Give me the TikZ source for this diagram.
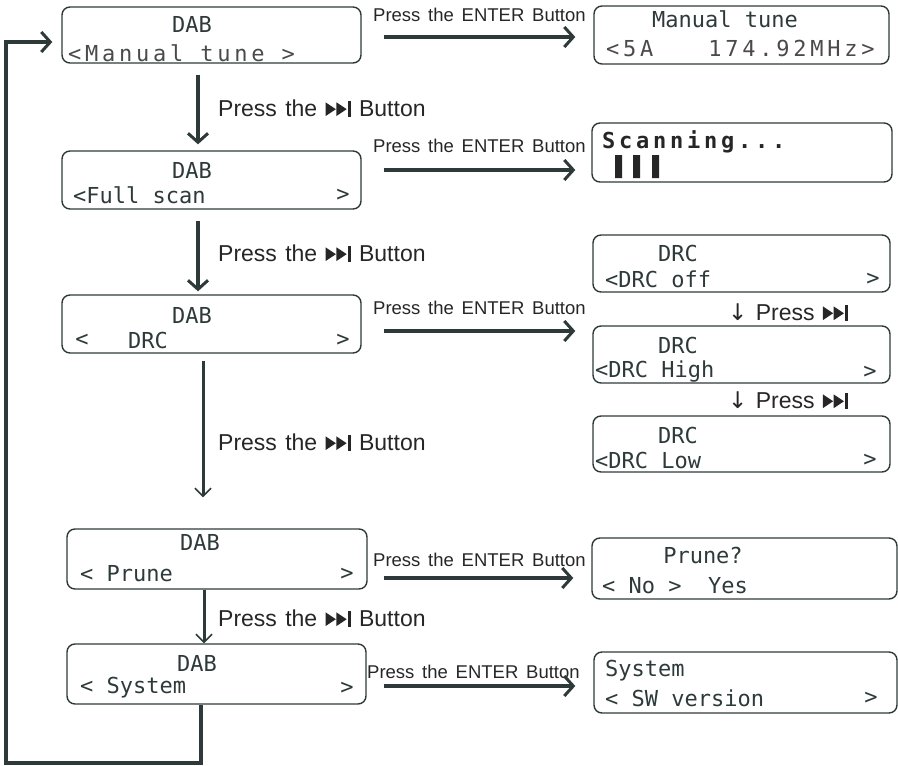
\documentclass[tikz,border=0pt]{standalone}
\usepackage{fontspec}
\setmainfont{Liberation Sans}
\newfontfamily\lcdfont{DejaVu Sans Mono}
\newfontfamily\dotfont[LetterSpace=17]{DejaVu Sans Mono}
\newfontfamily\arrowfont{DejaVu Sans}
\usetikzlibrary{arrows.meta}
\definecolor{DarkSlate}{HTML}{2E3A3A}
\definecolor{DotGrey}{HTML}{4A4A4A}
\newcommand{\nextkey}{\tikz[x=1em,y=1em,baseline=0pt]{\fill (0,0)--(0.45,0.3)--(0,0.6)--cycle; \fill (0.47,0)--(0.92,0.3)--(0.47,0.6)--cycle; \fill (0.97,-0.02) rectangle (1.1,0.66);}}
\newcommand{\enterfont}{\fontsize{18.5}{20}\selectfont\spaceskip=0.42em\relax}
\newcommand{\nextfont}{\fontsize{23}{24}\selectfont\spaceskip=0.36em\relax}

\begin{document}
\begin{tikzpicture}[x=1pt,y=-1pt,
    lcd/.style={draw=DarkSlate,line width=1.4pt,rounded corners=8pt,inner sep=0pt},
    lcdtext/.style={font=\lcdfont\fontsize{22}{24}\selectfont,text=DarkSlate,inner sep=0pt},
    dottext/.style={font=\dotfont\fontsize{22}{24}\selectfont,text=DotGrey,inner sep=0pt},
    enterlabel/.style={font=\enterfont,text=black!85,inner sep=0pt,anchor=west},
    nextlabel/.style={font=\nextfont,text=black!85,inner sep=0pt,anchor=west},
    flow/.style={draw=DarkSlate,line width=3.5pt,-{Straight Barb[length=9pt,width=20pt,line width=3pt]}},
    thinflow/.style={draw=DarkSlate,line width=3pt,-{Straight Barb[length=8pt,width=16pt,line width=1.5pt]}}]
    \useasboundingbox (0,0) rectangle (898,766);

    % left column
    \node[lcd,minimum width=299pt,minimum height=56pt] (dab1) at (211.5,35) {};
    \node[lcdtext] (dab1top) at (192,24) {DAB};
    \node[dottext,anchor=west] (dab1sel) at (68,53) {<Manual tune >};

    \node[lcd,minimum width=299pt,minimum height=58pt] (dab2) at (211.5,180) {};
    \node[lcdtext] (dab2top) at (192,170) {DAB};
    \node[lcdtext,anchor=west] (dab2sel) at (73,195) {<Full scan};
    \node[lcdtext] (dab2r) at (343,195) {>};

    \node[lcd,minimum width=299pt,minimum height=58pt] (dab3) at (211.5,324) {};
    \node[lcdtext] (dab3top) at (192,315) {DAB};
    \node[lcdtext] (dab3l) at (82,340) {<};
    \node[lcdtext,anchor=west] (dab3sel) at (128,340) {DRC};
    \node[lcdtext] (dab3r) at (343,340) {>};

    \node[lcd,minimum width=300pt,minimum height=60pt] (dab4) at (217,559) {};
    \node[lcdtext] (dab4top) at (200,542) {DAB};
    \node[lcdtext,anchor=west] (dab4sel) at (80,574) {< Prune};
    \node[lcdtext] (dab4r) at (347,574) {>};

    \node[lcd,minimum width=299pt,minimum height=60pt] (dab5) at (216.5,674) {};
    \node[lcdtext] (dab5top) at (197,663) {DAB};
    \node[lcdtext,anchor=west] (dab5sel) at (80,688) {< System};
    \node[lcdtext] (dab5r) at (347,688) {>};

    % right column
    \node[lcd,minimum width=295pt,minimum height=58pt] (tune) at (741.5,35) {};
    \node[lcdtext] (tunetop) at (725,19) {Manual tune};
    \node[dottext,anchor=west] (tunesel) at (606,48) {<5A\hspace{55pt}174.92MHz>};

    \node[lcd,minimum width=300pt,minimum height=59pt] (scan) at (742,152.5) {};
    \node[dottext,anchor=west,font=\dotfont\bfseries\fontsize{22}{24}\selectfont,text=black!85] (scansel) at (602,142) {Scanning...};
    \fill[black!85] (615,155) rectangle (622,178) (633,155) rectangle (640,178) (652,155) rectangle (659,178);

    \node[lcd,minimum width=297pt,minimum height=57pt] (drcoff) at (741.5,263.5) {};
    \node[lcdtext] (offtop) at (678,253) {DRC};
    \node[lcdtext,anchor=west] (offsel) at (605,279) {<DRC off};
    \node[lcdtext] (offr) at (873,279) {>};

    \node[lcd,minimum width=297pt,minimum height=57pt] (drchigh) at (741.5,354.5) {};
    \node[lcdtext] (hightop) at (678,345) {DRC};
    \node[lcdtext,anchor=west] (highsel) at (595,372) {<DRC High};
    \node[lcdtext] (highr) at (870,372) {>};

    \node[lcd,minimum width=297pt,minimum height=56pt] (drclow) at (741.5,444) {};
    \node[lcdtext] (lowtop) at (678,435) {DRC};
    \node[lcdtext,anchor=west] (lowsel) at (595,460) {<DRC Low};
    \node[lcdtext] (lowr) at (870,460) {>};

    \node[nextlabel] (offstep) at (728,312) {{\arrowfont ↓} Press \nextkey};
    \node[nextlabel] (highstep) at (728,400) {{\arrowfont ↓} Press \nextkey};

    \node[lcd,minimum width=305pt,minimum height=61pt] (prunask) at (744.5,568.5) {};
    \node[lcdtext] (asktop) at (703,555) {Prune?};
    \node[lcdtext,anchor=west] (asksel) at (602,586) {< No >~~Yes};

    \node[lcd,minimum width=303pt,minimum height=61pt] (sysver) at (745.5,682.5) {};
    \node[lcdtext,anchor=west] (systop) at (605,671) {System};
    \node[lcdtext,anchor=west] (syssel) at (605,698) {< SW version};
    \node[lcdtext] (sysr) at (871,698) {>};

    % ENTER arrows
    \node[enterlabel] (enter1) at (373,15) {Press the ENTER Button};
    \draw[flow] ([xshift=22pt,yshift=-2pt]dab1.east) -- ([xshift=-18pt,yshift=-2pt]tune.west);
    \node[enterlabel] (enter2) at (373,146) {Press the ENTER Button};
    \draw[flow] ([xshift=22pt,yshift=10pt]dab2.east) -- ([xshift=-16pt,yshift=-17.5pt]scan.west);
    \node[enterlabel] (enter3) at (373,308) {Press the ENTER Button};
    \draw[flow] ([xshift=22pt,yshift=-7pt]dab3.east) -- ([xshift=-17pt,yshift=23.5pt]drchigh.west);
    \node[enterlabel] (enter4) at (373,560) {Press the ENTER Button};
    \draw[flow] ([xshift=16pt,yshift=-19pt]dab4.east) -- ([xshift=-18pt,yshift=-9.5pt]prunask.west);
    \node[enterlabel] (enter5) at (367,672) {Press the ENTER Button};
    \draw[flow] ([xshift=17pt,yshift=-12pt]dab5.east) -- ([xshift=-18pt,yshift=-3.5pt]sysver.west);

    % next arrows
    \draw[flow] ([xshift=-13.5pt,yshift=-11pt]dab1.south) -- ([xshift=-13.5pt,yshift=6pt]dab2.north);
    \node[nextlabel] (next1) at (218,108) {Press the \nextkey\ Button};
    \draw[flow] ([xshift=-13.5pt,yshift=-11pt]dab2.south) -- ([xshift=-13.5pt,yshift=3pt]dab3.north);
    \node[nextlabel] (next2) at (218,253) {Press the \nextkey\ Button};
    \draw[thinflow] ([xshift=-8.5pt,yshift=-7pt]dab3.south) -- ([xshift=-14pt,yshift=31pt]dab4.north);
    \node[nextlabel] (next3) at (218,442) {Press the \nextkey\ Button};
    \draw[thinflow] ([xshift=-13pt]dab4.south) -- ([xshift=-12.5pt]dab5.north);
    \node[nextlabel] (next4) at (218,618) {Press the \nextkey\ Button};

    % back to the top
    \coordinate (loopcorner) at (6,763);
    \draw[flow] ([xshift=-15.5pt]dab5.south) |- (loopcorner) |- ([xshift=-9pt,yshift=-7pt]dab1.west);
\end{tikzpicture}
\end{document}
